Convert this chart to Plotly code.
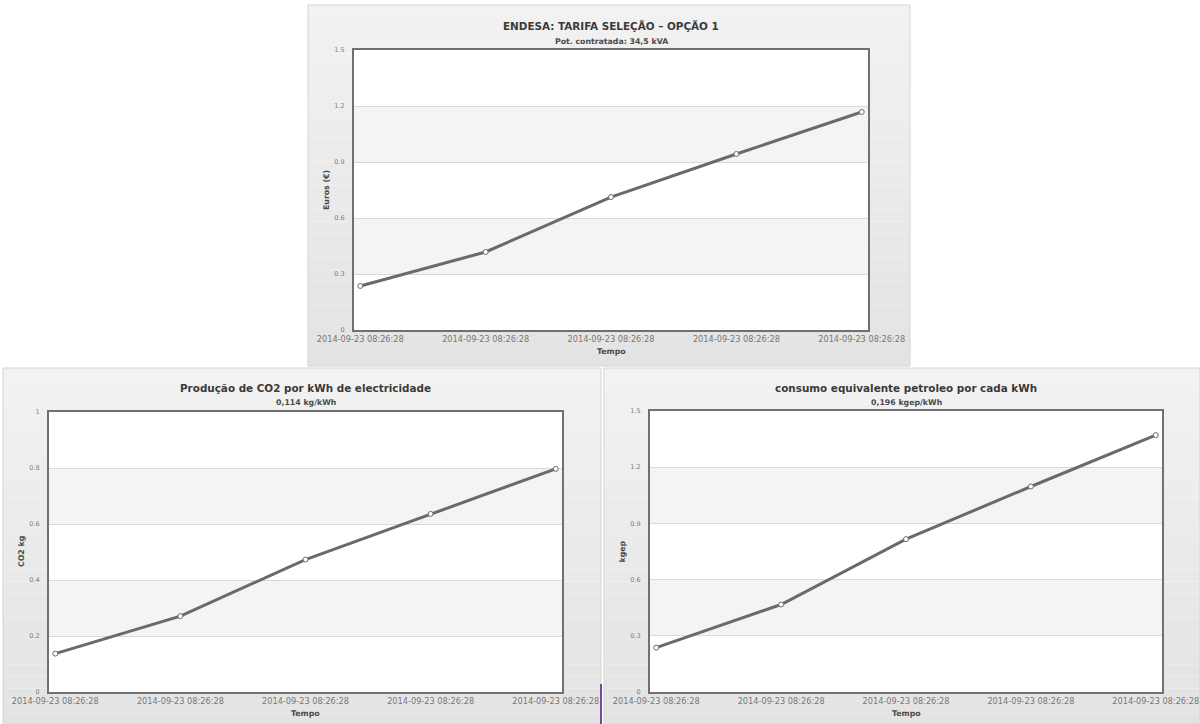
import plotly.graph_objects as go

W, H = 1200, 724

# Shared x categories (timestamps of the readings)
tempo_labels = [
    "2014-09-23 08:26:28",
    "2014-09-23 08:26:28",
    "2014-09-23 08:26:28",
    "2014-09-23 08:26:28",
    "2014-09-23 08:26:28",
]

# Series
euros = [0.236, 0.418, 0.712, 0.943, 1.168]
co2_kg = [0.137, 0.271, 0.473, 0.636, 0.797]
kgep = [0.237, 0.467, 0.816, 1.097, 1.371]

titles = [
    "ENDESA: TARIFA SELEÇÃO – OPÇÃO 1",
    "Produção de CO2 por kWh de electricidade",
    "consumo equivalente petroleo por cada kWh",
]
subtitles = ["Pot. contratada: 34,5 kVA", "0,114 kg/kWh", "0,196 kgep/kWh"]
y_titles = ["Euros (€)", "CO2 kg", "kgep"]
x_title = "Tempo"

y_ranges = [(0, 1.5, 0.3), (0, 1.0, 0.2), (0, 1.5, 0.3)]
series = [euros, co2_kg, kgep]

# Layout geometry in pixels: panel box, plot box
panels = [
    dict(panel=(308, 5, 910, 366), plot=(354, 50, 868, 330)),
    dict(panel=(3, 368, 601, 724), plot=(49, 412, 562, 692)),
    dict(panel=(604, 368, 1200, 724), plot=(650, 411, 1162, 692)),
]


def px(x):
    return x / W


def py(y):
    return 1 - y / H


FONT = "DejaVu Sans"
LINE = "#6a6a6a"

fig = go.Figure()
shapes = []
annotations = []


def blend(c1, c2, t):
    return "#%02x%02x%02x" % tuple(round(a + (b - a) * t) for a, b in zip(c1, c2))


n_idx = list(range(len(tempo_labels)))

for i, (p, vals) in enumerate(zip(panels, series)):
    x0, y0, x1, y1 = p["panel"]
    # vertical gradient panel background
    steps = 30
    for s in range(steps):
        ya = y0 + (y1 - y0) * s / steps
        yb = y0 + (y1 - y0) * (s + 1) / steps
        col = blend((242, 242, 242), (227, 227, 227), s / (steps - 1))
        shapes.append(dict(type="rect", xref="paper", yref="paper",
                           x0=px(x0), x1=px(x1), y0=py(ya), y1=py(yb),
                           fillcolor=col, line=dict(width=0), layer="below"))
    shapes.append(dict(type="rect", xref="paper", yref="paper",
                       x0=px(x0), x1=px(x1), y0=py(y0), y1=py(y1),
                       fillcolor="rgba(0,0,0,0)", line=dict(width=1, color="#d4d4d4"),
                       layer="below"))
    # white plot area
    lx0, ly0, lx1, ly1 = p["plot"]
    shapes.append(dict(type="rect", xref="paper", yref="paper",
                       x0=px(lx0), x1=px(lx1), y0=py(ly0), y1=py(ly1),
                       fillcolor="white", line=dict(width=0), layer="below"))

    suffix = "" if i == 0 else str(i + 1)
    xa = "x" + suffix
    ya_ = "y" + suffix
    lo, hi, step = y_ranges[i]

    # alternating bands
    k = 1
    v = lo + step
    while v < hi - 1e-9:
        if k % 2 == 1:
            shapes.append(dict(type="rect", xref=xa + " domain", yref=ya_,
                               x0=0, x1=1, y0=v, y1=min(v + step, hi),
                               fillcolor="#f4f4f4", line=dict(width=0), layer="below"))
        k += 1
        v += step

    fig.add_trace(go.Scatter(
        x=n_idx, y=vals, mode="lines+markers", xaxis=xa, yaxis=ya_,
        line=dict(color=LINE, width=3),
        marker=dict(size=5, color="white", line=dict(color=LINE, width=1)),
        showlegend=False, hoverinfo="skip",
    ))

    axis_x = dict(
        domain=[px(lx0), px(lx1)], range=[-0.05, 4.05], anchor=ya_,
        tickmode="array", tickvals=n_idx, ticktext=tempo_labels,
        tickfont=dict(family=FONT, size=8.2, color="#777777"),
        showgrid=False, zeroline=False, showline=True, mirror=True,
        linecolor="#707070", linewidth=2, ticks="", fixedrange=True,
        automargin=False,
    )
    axis_y = dict(
        domain=[py(ly1), py(ly0)], range=[lo, hi], anchor=xa,
        dtick=step, tick0=0,
        tickfont=dict(family=FONT, size=6.5, color="#808080"),
        ticklabelstandoff=6,
        showgrid=True, gridcolor="#d9d9d9", gridwidth=1, zeroline=False,
        showline=True, mirror=True, linecolor="#707070", linewidth=2,
        ticks="", fixedrange=True, automargin=False,
    )
    fig.update_layout({"xaxis" + suffix: axis_x, "yaxis" + suffix: axis_y})

    cx = (lx0 + lx1) / 2
    annotations += [
        dict(text="<b>%s</b>" % titles[i], x=px(cx), y=py(y0 + 21 if i == 0 else y0 + 20),
             xref="paper", yref="paper", showarrow=False, xanchor="center", yanchor="middle",
             font=dict(family=FONT, size=10.4, color="#3a3a3a")),
        dict(text="<b>%s</b>" % subtitles[i], x=px(cx), y=py(y0 + 36 if i == 0 else y0 + 34),
             xref="paper", yref="paper", showarrow=False, xanchor="center", yanchor="middle",
             font=dict(family=FONT, size=7.8, color="#4a4a4a")),
        dict(text="<b>%s</b>" % y_titles[i], x=px(lx0 - 28), y=py((ly0 + ly1) / 2),
             xref="paper", yref="paper", showarrow=False, textangle=-90,
             xanchor="center", yanchor="middle",
             font=dict(family=FONT, size=7.8, color="#4a4a4a")),
        dict(text="<b>%s</b>" % x_title, x=px(cx), y=py(ly1 + 21),
             xref="paper", yref="paper", showarrow=False, xanchor="center", yanchor="middle",
             font=dict(family=FONT, size=7.8, color="#4a4a4a")),
    ]

# thin purple cursor mark between the lower panels
shapes.append(dict(type="line", xref="paper", yref="paper",
                   x0=px(601), x1=px(601), y0=py(684), y1=py(724),
                   line=dict(color="#7a4a9a", width=2)))

fig.update_layout(
    width=W, height=H, margin=dict(l=0, r=0, t=0, b=0),
    paper_bgcolor="white", plot_bgcolor="rgba(0,0,0,0)",
    shapes=shapes, annotations=annotations,
)

fig.write_html("out.html", config={"displayModeBar": False})
